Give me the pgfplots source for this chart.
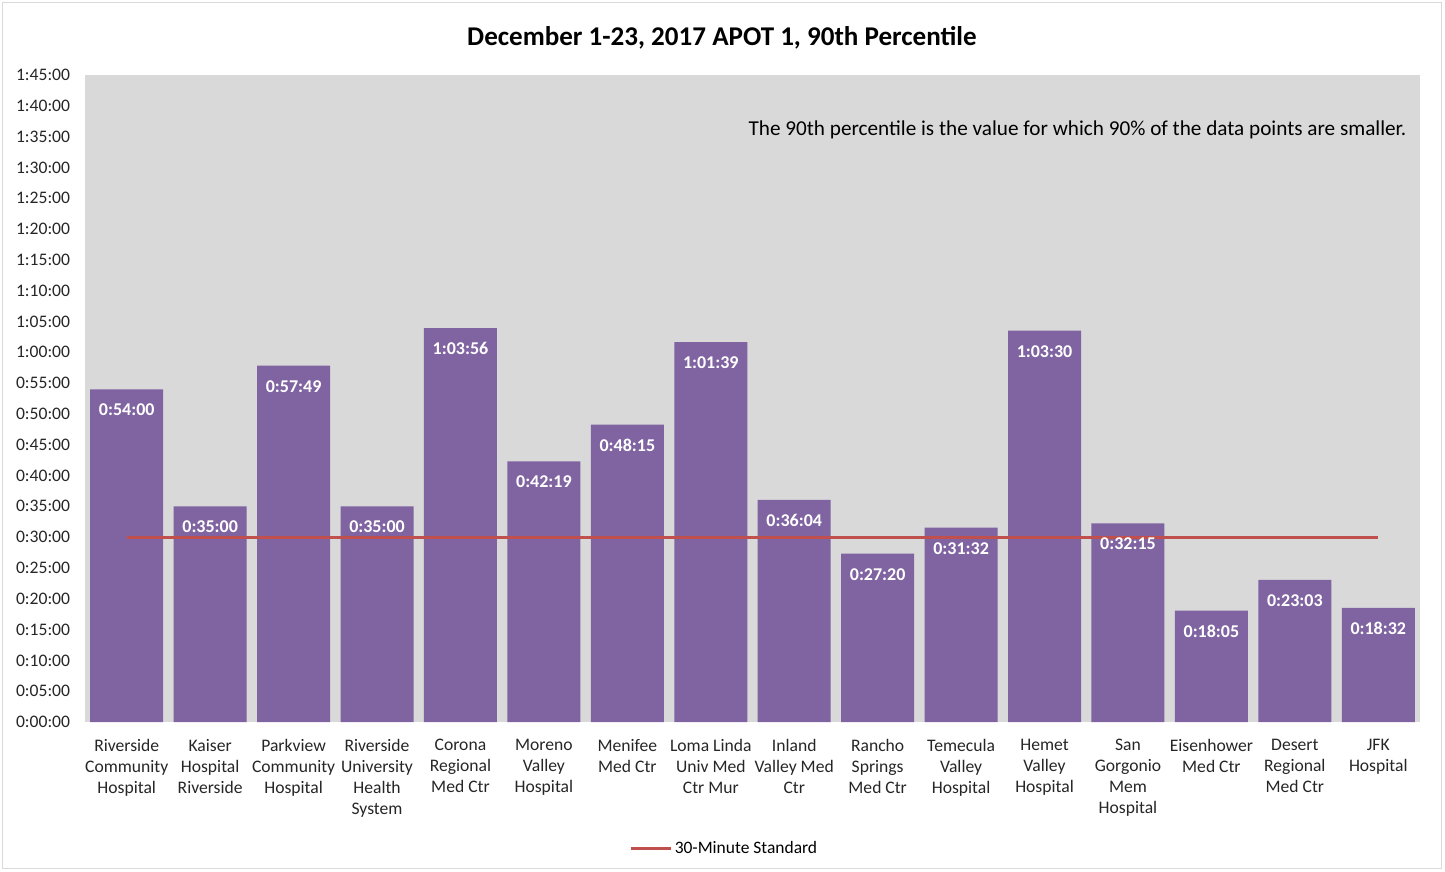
\documentclass[border=0pt]{standalone}
\usepackage{pgfplots}
\pgfplotsset{compat=1.18}
\usepackage{pgfplotstable}
\usepackage{fontspec}
\setmainfont{Carlito}
\definecolor{barpurple}{HTML}{8064A2}
\definecolor{plotgray}{HTML}{D9D9D9}
\definecolor{stdred}{HTML}{C0504D}
\pgfplotstableread{
x y label
0 54.0000 0:54:00
1 35.0000 0:35:00
2 57.8167 0:57:49
3 35.0000 0:35:00
4 63.9333 1:03:56
5 42.3167 0:42:19
6 48.2500 0:48:15
7 61.6500 1:01:39
8 36.0667 0:36:04
9 27.3333 0:27:20
10 31.5333 0:31:32
11 63.5000 1:03:30
12 32.2500 0:32:15
13 18.0833 0:18:05
14 23.0500 0:23:03
15 18.5333 0:18:32
}\datatable
\pgfplotstableread{
x y
0 30
15 30
}\stdtable
\begin{document}
\begin{tikzpicture}
\path (-63.75pt,-111.75pt) rectangle (1020pt,541.5pt);
\draw[plotgray, line width=0.75pt] (-61.5pt,-109.5pt) rectangle (1017pt,539.25pt);
\begin{axis}[
  at={(0pt,0pt)}, anchor=south west,
  scale only axis,
  width=1001.25pt, height=485.25pt,
  xmin=-0.5, xmax=15.5,
  ymin=0, ymax=105,
  axis background/.style={fill=plotgray},
  axis line style={draw=none},
  major tick length=0pt,
  ytick={0,5,...,105},
  yticklabels={0:00:00,0:05:00,0:10:00,0:15:00,0:20:00,0:25:00,0:30:00,0:35:00,0:40:00,0:45:00,0:50:00,0:55:00,1:00:00,1:05:00,1:10:00,1:15:00,1:20:00,1:25:00,1:30:00,1:35:00,1:40:00,1:45:00},
  yticklabel style={font=\fontsize{13.2}{15}\selectfont, inner sep=0pt, anchor=east, xshift=-11pt, text=black!85},
  xtick={0,...,15},
  xticklabels={
    {Riverside\\Community\\Hospital},
    {Kaiser\\Hospital\\Riverside},
    {Parkview\\Community\\Hospital},
    {Riverside\\University\\Health\\System},
    {Corona\\Regional\\Med Ctr},
    {Moreno\\Valley\\Hospital},
    {Menifee\\Med Ctr},
    {Loma Linda\\Univ Med\\Ctr Mur},
    {Inland\\Valley Med\\Ctr},
    {Rancho\\Springs\\Med Ctr},
    {Temecula\\Valley\\Hospital},
    {Hemet\\Valley\\Hospital},
    {San\\Gorgonio\\Mem\\Hospital},
    {Eisenhower\\Med Ctr},
    {Desert\\Regional\\Med Ctr},
    {JFK\\Hospital}},
  xticklabel style={font=\fontsize{13.2}{15.75}\selectfont, align=center, inner sep=0pt, anchor=north, yshift=-12.5pt, text=black!85},
  legend style={at={(rel axis cs:0.479,-0.196)}, anchor=center, draw=none, fill=none, font=\fontsize{13.1}{15}\selectfont, legend cell align=left, inner sep=0pt, nodes={inner sep=1.5pt}},
  legend image code/.code={\draw[#1] (0pt,0pt) -- (30pt,0pt);},
  clip=false,
]
\addplot[ybar, bar width=0.875, fill=barpurple, draw=none,
  point meta=explicit symbolic,
  nodes near coords,
  every node near coord/.append style={anchor=center, yshift=-15.5pt, text=white, font=\bfseries\fontsize{13.5}{15}\selectfont},
  forget plot]
  table[x=x, y=y, meta=label] {\datatable};
\addplot[stdred, line width=2.25pt] table[x=x, y=y] {\stdtable};
\addlegendentry{30-Minute Standard}
\node[anchor=east, font=\fontsize{15.9}{18}\selectfont, inner sep=0pt] at (rel axis cs:0.990,0.915) {The 90th percentile is the value for which 90\% of the data points are smaller.};
\end{axis}
\node[font=\bfseries\fontsize{20.3}{24}\selectfont] at (477.75pt,513pt) {December 1-23, 2017 APOT 1, 90th Percentile};
\end{tikzpicture}
\end{document}
